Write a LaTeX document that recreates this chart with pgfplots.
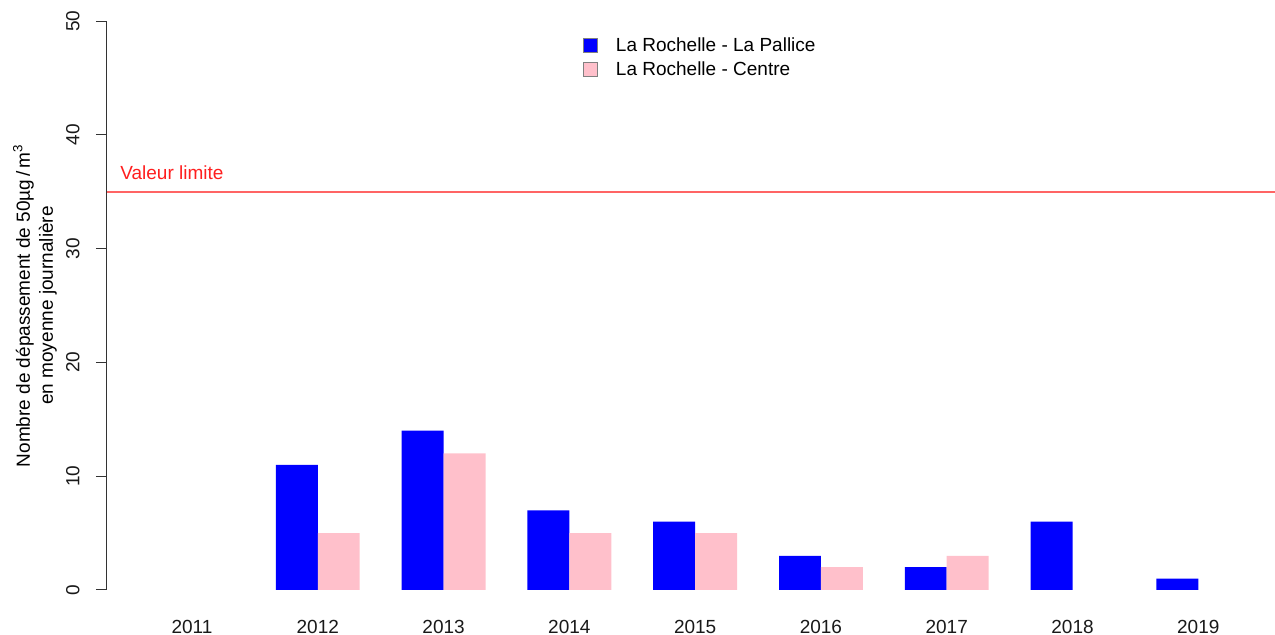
\documentclass[border=0pt]{standalone}
\usepackage{fontspec}
\setmainfont{Liberation Sans}
\usepackage{pgfplots}
\pgfplotsset{compat=1.18}
\usetikzlibrary{calc}
\definecolor{rblue}{RGB}{0,0,255}
\definecolor{rpink}{RGB}{255,192,203}
\definecolor{rred}{RGB}{255,30,30}
\definecolor{rline}{RGB}{255,100,100}
\begin{document}
\begin{tikzpicture}
\begin{axis}[
  scale only axis,
  width=584pt, height=284.5pt,
  xmin=-0.676, xmax=8.61,
  ymin=0, ymax=50,
  font=\fontsize{9.5}{11.5}\selectfont,
  /pgf/number format/assume math mode=true,
  axis y line*=left,
  axis x line*=bottom,
  x axis line style={draw=none},
  y axis line style={line width=0.5pt, black!80},
  ytick={0,10,20,30,40,50},
  xtick={0,1,2,3,4,5,6,7,8},
  xticklabels={2011,2012,2013,2014,2015,2016,2017,2018,2019},
  xtick style={draw=none},
  ytick style={line width=0.5pt, black!80},
  tick align=outside,
  major tick length=5.5pt,
  yticklabel style={rotate=90, anchor=south, inner sep=0pt, text=black!90},
  yticklabel shift=8pt,
  xticklabel style={anchor=north, inner sep=0pt, text=black!90},
  xticklabel shift=9.5pt,
  ybar=0pt,
  bar width=0.3333,
  legend style={at={(rel axis cs:0.4075,0.972)}, anchor=north west, draw=none, fill=none,
    inner sep=0pt, font=\fontsize{9.5}{11.5}\selectfont,
    nodes={inner sep=0pt},
    /tikz/every odd column/.append style={column sep=9pt},
    /tikz/row sep=3.6pt},
  legend cell align=left,
  legend image code/.code={\draw[#1, draw=gray, line width=0.3pt] (0pt,-3.5pt) rectangle (7pt,3.5pt);},
  clip=false,
]
\addplot[fill=rblue, draw=none, bar shift=-0.16667] coordinates {(1,11) (2,14) (3,7) (4,6) (5,3) (6,2) (7,6) (8,1)};
\addlegendentry{La Rochelle - La Pallice}
\addplot[fill=rpink, draw=none, bar shift=0.16667] coordinates {(1,5) (2,12) (3,5) (4,5) (5,2) (6,3)};
\addlegendentry{La Rochelle - Centre}
\node[anchor=west, text=rred, inner sep=0pt] at (axis cs:-0.573,36.7) {Valeur limite};
\coordinate (ylc) at (rel axis cs:0,0.5);
\coordinate (bbl) at (rel axis cs:0,0);
\coordinate (btr) at (rel axis cs:1,1);
\coordinate (la) at (axis cs:-0.676,35);
\coordinate (lb) at (axis cs:8.61,35);
\end{axis}
\draw[rline, line width=1pt] (la) -- (lb);
\node[rotate=90, align=center, inner sep=0pt, font=\fontsize{9.5}{11.5}\selectfont] at ([xshift=-36pt]ylc) {Nombre de dépassement de 50µg\,/\,m\textsuperscript{3}\\en moyenne journalière};
\pgfresetboundingbox
\path[use as bounding box] ([xshift=-53.5pt,yshift=-22.5pt]bbl) rectangle ([yshift=10.5pt]btr);
\end{tikzpicture}
\end{document}
